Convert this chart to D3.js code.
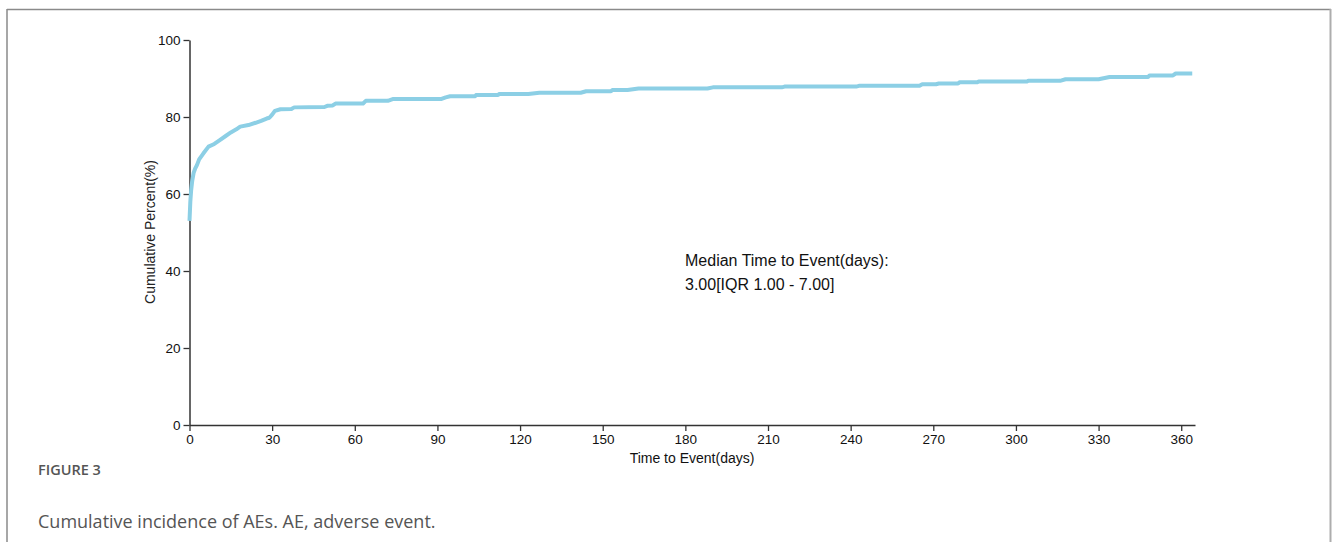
<!DOCTYPE html>
<html>
<head>
<meta charset="utf-8">
<script src="https://cdn.jsdelivr.net/npm/d3@7"></script>
<style>
  html, body { margin: 0; padding: 0; background: #fff; }
  svg { display: block; }
</style>
</head>
<body>
<svg id="chart" width="1333" height="542"></svg>
<script>
// ---- data ----
const days = [0, 0.3, 0.6, 1, 1.5, 2, 2.7, 3.5, 5, 6.9, 9, 11, 13, 15, 17, 18.4, 21.4, 24, 26, 28, 29, 30, 31, 33, 37, 38, 49, 50, 52, 53, 63, 64, 72, 74, 91.5, 93, 94.6, 103.7, 104, 112, 112.5, 123, 127, 142, 144, 153, 153.5, 159, 163, 188, 190, 215, 216, 242, 243, 265, 266, 271, 272, 279, 279.5, 286, 286.5, 304, 304.5, 316, 318, 330, 334, 348, 348.5, 357, 358, 364];
const cumPct = [53, 58, 61, 63.5, 65.5, 66.5, 67.5, 69, 70.5, 72.3, 73, 74, 75, 76, 76.8, 77.5, 77.9, 78.5, 79, 79.6, 79.8, 80.6, 81.6, 82, 82.1, 82.5, 82.6, 82.9, 83, 83.5, 83.5, 84.2, 84.2, 84.7, 84.7, 85.1, 85.4, 85.4, 85.7, 85.7, 86.0, 86.0, 86.3, 86.3, 86.7, 86.7, 87.0, 87.0, 87.4, 87.4, 87.7, 87.7, 87.9, 87.9, 88.1, 88.1, 88.5, 88.5, 88.7, 88.7, 89.0, 89.0, 89.2, 89.2, 89.4, 89.4, 89.8, 89.8, 90.4, 90.4, 90.8, 90.8, 91.3, 91.3];
const xTicks = [0, 30, 60, 90, 120, 150, 180, 210, 240, 270, 300, 330, 360];
const yTicks = [0, 20, 40, 60, 80, 100];
const xTitle = "Time to Event(days)";
const yTitle = "Cumulative Percent(%)";
const noteLines = ["Median Time to Event(days):", "3.00[IQR 1.00 - 7.00]"];
const figLabel = "FIGURE 3";
const caption = "Cumulative incidence of AEs. AE, adverse event.";

// ---- drawing ----
const svg = d3.select("#chart");
const tickFont = '"Liberation Sans Narrow", "Arial Narrow", "Liberation Sans", Arial, sans-serif';

// frame
svg.append("line").attr("x1", 7).attr("x2", 1331).attr("y1", 9.5).attr("y2", 9.5)
  .attr("stroke", "#8a8a8a").attr("stroke-width", 1.5);
svg.append("line").attr("x1", 7).attr("x2", 7).attr("y1", 9).attr("y2", 542)
  .attr("stroke", "#8a8a8a").attr("stroke-width", 1.5);
svg.append("line").attr("x1", 1330.5).attr("x2", 1330.5).attr("y1", 9).attr("y2", 542)
  .attr("stroke", "#adadad").attr("stroke-width", 2);

const x = d3.scaleLinear().domain([0, 365]).range([189.5, 1195]);
const y = d3.scaleLinear().domain([0, 100]).range([425, 40]);

const xAxis = svg.append("g").attr("transform", `translate(0,${y(0)})`)
  .call(d3.axisBottom(x).tickValues(xTicks).tickSize(6).tickPadding(3).tickSizeOuter(0));
const yAxis = svg.append("g").attr("transform", `translate(${x(0)},0)`)
  .call(d3.axisLeft(y).tickValues(yTicks).tickSize(6).tickPadding(3).tickSizeOuter(0));

[xAxis, yAxis].forEach(g => {
  g.select(".domain").attr("stroke", "#333").attr("stroke-width", 1.5);
  g.selectAll(".tick line").attr("stroke", "#333").attr("stroke-width", 1.3);
  g.selectAll(".tick text").attr("fill", "#111")
    .style("font-family", tickFont).style("font-size", "13.5px");
});

// curve
const pts = days.map((d, i) => [d, cumPct[i]]);
svg.append("path").datum(pts)
  .attr("fill", "none")
  .attr("stroke", "#8ccfe5")
  .attr("stroke-width", 4)
  .attr("stroke-linejoin", "round")
  .attr("d", d3.line().x(d => x(d[0])).y(d => y(d[1])));

// axis titles
svg.append("text").attr("x", 692).attr("y", 463).attr("text-anchor", "middle")
  .style("font-family", '"Liberation Sans", Arial, sans-serif').style("font-size", "14px")
  .attr("fill", "#111").text(xTitle);
svg.append("text").attr("transform", "translate(155,232) rotate(-90)").attr("text-anchor", "middle")
  .style("font-family", '"Liberation Sans", Arial, sans-serif').style("font-size", "14px")
  .attr("fill", "#222").text(yTitle);

// annotation
svg.append("g").selectAll("text").data(noteLines).join("text")
  .attr("x", 685).attr("y", (d, i) => 266 + i * 24)
  .style("font-family", '"Liberation Sans", Arial, sans-serif').style("font-size", "16px")
  .attr("fill", "#111").text(d => d);

// caption
svg.append("text").attr("x", 38).attr("y", 475)
  .style("font-family", '"Open Sans", "Noto Sans", sans-serif').style("font-size", "14.5px")
  .style("font-weight", 600).attr("fill", "#555").text(figLabel);
svg.append("text").attr("x", 38).attr("y", 528)
  .style("font-family", '"Open Sans", "Noto Sans", sans-serif').style("font-size", "18px")
  .attr("fill", "#555").text(caption);
</script>
</body>
</html>
